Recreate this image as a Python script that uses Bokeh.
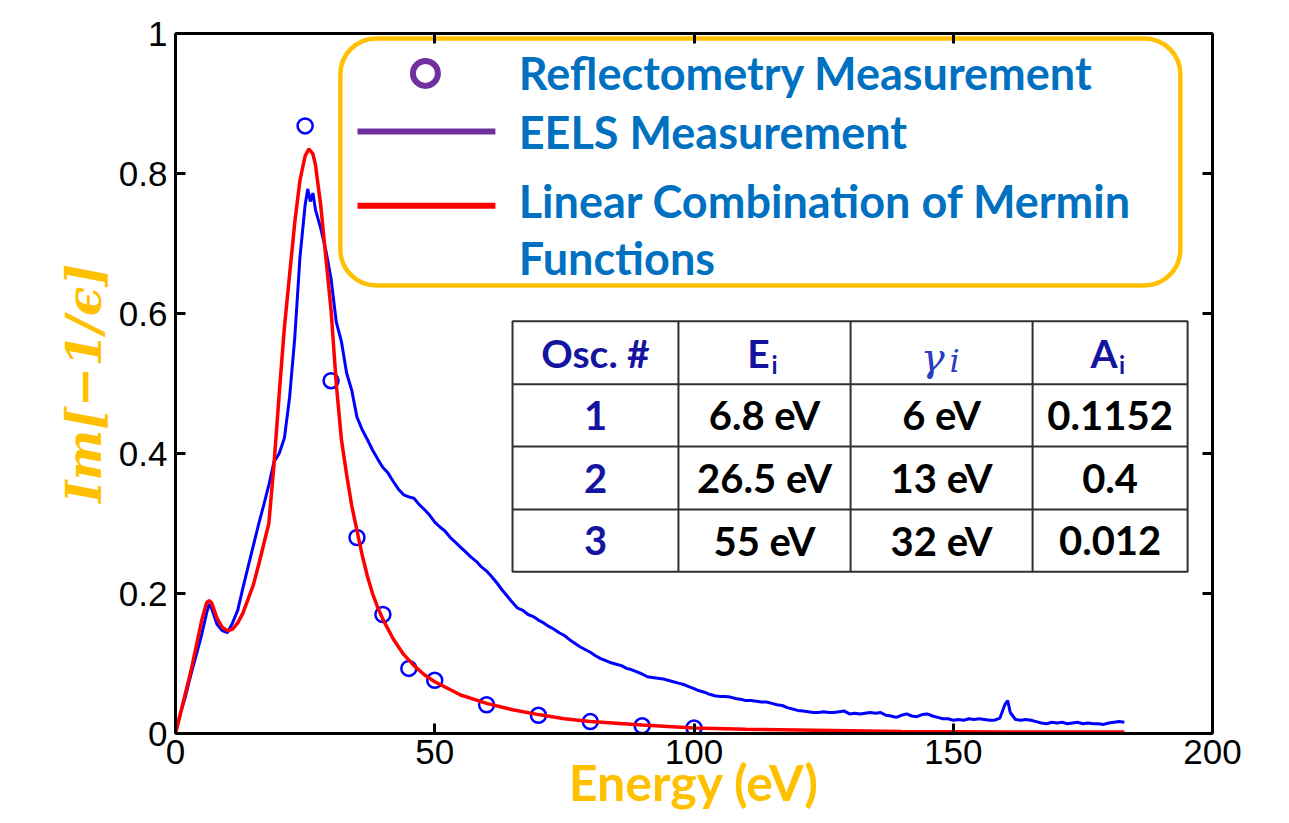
from bokeh.plotting import figure
from bokeh.models import (Range1d, LinearAxis, FixedTicker, NumeralTickFormatter,
                          BoxAnnotation, CustomJSTickFormatter)
from bokeh.core.properties import value
from bokeh.embed import file_html
from bokeh.resources import INLINE

# ---------------- data ----------------
eels_energy = [0, 1, 2, 3, 4, 5, 6, 6.5, 7, 8, 9, 10, 11, 12, 13, 14, 15, 16, 17, 18, 19,
               20, 21, 22, 23, 24, 25, 25.5, 26, 26.5, 27, 28, 29, 30, 31, 32, 33, 34, 35,
               36, 37, 38, 39, 40, 41, 42, 43, 44, 45, 46, 47, 48, 49, 50, 51, 52, 53, 54,
               55, 56, 57, 58, 59, 60, 61, 62, 63, 64, 65, 66, 67, 68, 69, 70, 71, 72, 73,
               74, 75, 76, 77, 78, 79, 80, 81, 82, 83, 84, 85, 86, 87, 88, 89, 90, 91, 92,
               93, 94, 95, 96, 97, 98, 99, 100, 101, 102, 103, 104, 105, 106, 107, 108, 109,
               110, 111, 112, 113, 114, 115, 116, 117, 118, 119, 120, 121, 122, 123, 124,
               125, 126, 127, 128, 129, 130, 131, 132, 133, 134, 135, 136, 137, 138, 139,
               140, 141, 142, 143, 144, 145, 146, 147, 148, 149, 150, 151, 152, 153, 154,
               155, 156, 157, 158, 159, 160, 160.5, 161, 162, 163, 164, 165, 166, 167, 168,
               169, 170, 171, 172, 173, 174, 175, 176, 177, 178, 179, 180, 181, 182, 183]
eels_loss = [0.0, 0.03, 0.055, 0.085, 0.112, 0.14, 0.172, 0.185, 0.178, 0.156, 0.147, 0.144,
             0.158, 0.176, 0.208, 0.238, 0.268, 0.298, 0.326, 0.355, 0.388, 0.400, 0.422,
             0.48, 0.565, 0.68, 0.755, 0.778, 0.76, 0.772, 0.748, 0.722, 0.69, 0.65, 0.588,
             0.56, 0.515, 0.49, 0.452, 0.434, 0.42, 0.405, 0.392, 0.38, 0.372, 0.36, 0.349,
             0.341, 0.338, 0.336, 0.327, 0.32, 0.312, 0.302, 0.295, 0.289, 0.28, 0.273,
             0.266, 0.259, 0.252, 0.246, 0.238, 0.232, 0.224, 0.215, 0.205, 0.196, 0.187,
             0.179, 0.176, 0.17, 0.167, 0.162, 0.158, 0.153, 0.149, 0.144, 0.14, 0.134,
             0.129, 0.124, 0.12, 0.116, 0.111, 0.107, 0.104, 0.101, 0.099, 0.097, 0.093,
             0.091, 0.088, 0.085, 0.081, 0.08, 0.079, 0.078, 0.076, 0.074, 0.072, 0.07,
             0.067, 0.064, 0.061, 0.059, 0.056, 0.054, 0.053, 0.053, 0.052, 0.05, 0.049,
             0.047, 0.047, 0.046, 0.045, 0.045, 0.043, 0.041, 0.04, 0.037, 0.035, 0.033,
             0.032, 0.031, 0.03, 0.03, 0.031, 0.03, 0.03, 0.031, 0.032, 0.028, 0.029,
             0.028, 0.029, 0.03, 0.029, 0.03, 0.026, 0.025, 0.023, 0.026, 0.028, 0.025,
             0.024, 0.027, 0.028, 0.025, 0.023, 0.021, 0.021, 0.019, 0.02, 0.019, 0.021,
             0.02, 0.021, 0.02, 0.019, 0.019, 0.022, 0.042, 0.047, 0.03, 0.02, 0.019, 0.02,
             0.019, 0.017, 0.015, 0.014, 0.016, 0.015, 0.016, 0.014, 0.015, 0.016, 0.014,
             0.015, 0.014, 0.014, 0.013, 0.015, 0.016, 0.017, 0.016]

fit_energy = [0, 1, 2, 3, 4, 5, 6, 6.5, 7, 8, 9, 10, 11, 12, 13, 14, 15, 16, 17, 18, 19, 20,
              21, 22, 23, 24, 25, 25.7, 26.5, 27, 28, 29, 30, 31, 32, 33, 34, 35, 36, 37, 38,
              39, 40, 42, 44, 46, 48, 50, 55, 60, 65, 70, 75, 80, 90, 100, 110, 120, 140,
              160, 183]
fit_loss = [0.0, 0.03, 0.06, 0.09, 0.125, 0.16, 0.187, 0.19, 0.186, 0.165, 0.152, 0.147,
            0.149, 0.158, 0.172, 0.192, 0.212, 0.24, 0.27, 0.30, 0.385, 0.485, 0.58, 0.655,
            0.73, 0.79, 0.825, 0.835, 0.828, 0.812, 0.755, 0.68, 0.605, 0.5, 0.42, 0.37,
            0.325, 0.29, 0.255, 0.225, 0.2, 0.18, 0.163, 0.135, 0.113, 0.097, 0.084, 0.074,
            0.055, 0.043, 0.034, 0.027, 0.021, 0.017, 0.012, 0.008, 0.006, 0.005, 0.003,
            0.002, 0.002]

refl_energy = [25, 30, 35, 40, 45, 50, 60, 70, 80, 90, 100]
refl_loss = [0.868, 0.504, 0.280, 0.170, 0.093, 0.076, 0.041, 0.026, 0.017, 0.011, 0.008]

x_ticks = [0, 50, 100, 150, 200]
y_ticks = [0, 0.2, 0.4, 0.6, 0.8, 1]

x_title = "Energy (eV)"
y_title = "Im[\u22121/\u03f5]"

legend_labels = ["Reflectometry Measurement", "EELS Measurement",
                 "Linear Combination of Mermin", "Functions"]

header_main = ["Osc. #", "E", "\u03b3", "A"]
header_sub = ["", "i", "i", "i"]
osc_number = ["1", "2", "3"]
osc_energy = ["6.8 eV", "26.5 eV", "55 eV"]
osc_gamma = ["6 eV", "13 eV", "32 eV"]
osc_amp = ["0.1152", "0.4", "0.012"]

# ---------------- styles ----------------
ORANGE = "#FFC000"
LEG_BLUE = "#0070C0"
PURPLE = "#7030A0"
NAVY = "#1414A0"

p = figure(width=1289, height=823, x_range=Range1d(0, 200), y_range=Range1d(0, 1),
           output_backend="svg", toolbar_location=None)
p.min_border_left = 175
p.min_border_right = 77
p.min_border_top = 33
p.min_border_bottom = 90
p.grid.visible = False
p.outline_line_color = None
p.background_fill_color = "white"
p.border_fill_color = "white"


def style_axis(ax, ticks, show_labels):
    ax.ticker = FixedTicker(ticks=ticks)
    ax.axis_line_width = 3
    ax.axis_line_color = "black"
    ax.major_tick_in = 10
    ax.major_tick_out = 0
    ax.major_tick_line_width = 3
    ax.minor_tick_line_color = None
    if show_labels:
        ax.formatter = NumeralTickFormatter(format="0.[0]")
        ax.major_label_text_font = "Liberation Sans"
        ax.major_label_text_font_size = "35px"
        ax.major_label_text_color = "black"
    else:
        ax.formatter = CustomJSTickFormatter(code="return ''")
        ax.major_label_standoff = 0


xax = p.xaxis[0]
yax = p.yaxis[0]
style_axis(xax, x_ticks, True)
style_axis(yax, y_ticks, True)
xax.major_label_standoff = 6
yax.major_label_standoff = 8

xax.axis_label = x_title
xax.axis_label_text_font = "Lato"
xax.axis_label_text_font_style = "bold"
xax.axis_label_text_font_size = "50px"
xax.axis_label_text_color = ORANGE
xax.axis_label_standoff = -15

yax.axis_label = y_title
yax.axis_label_text_font = "DejaVu Serif"
yax.axis_label_text_font_style = "bold italic"
yax.axis_label_text_font_size = "48px"
yax.axis_label_text_color = ORANGE
yax.axis_label_standoff = 4

top_ax = LinearAxis()
style_axis(top_ax, x_ticks, False)
p.add_layout(top_ax, "above")
right_ax = LinearAxis()
style_axis(right_ax, y_ticks, False)
p.add_layout(right_ax, "right")

# ---------------- series ----------------
p.line(eels_energy, eels_loss, line_color="#0000FF", line_width=3)
p.scatter(refl_energy, refl_loss, marker="circle", size=15, fill_color=None,
          line_color="#0000FF", line_width=2.5)
p.line(fit_energy, fit_loss, line_color="#FF0000", line_width=3.5)

# ---------------- legend box ----------------
box = BoxAnnotation(left=31.8, right=193.8, top=0.993, bottom=0.64,
                    fill_color="white", fill_alpha=1.0, line_color=ORANGE,
                    line_alpha=1.0, line_width=4.5, border_radius=36, level="underlay")
p.add_layout(box)

p.scatter([48.2], [0.943], marker="circle", size=25, fill_color=None,
          line_color=PURPLE, line_width=6)
p.segment(x0=[35.1], y0=[0.86], x1=[61.7], y1=[0.86], line_color=PURPLE, line_width=6)
p.segment(x0=[35.1], y0=[0.754], x1=[61.7], y1=[0.754], line_color="#FF0000", line_width=6)
p.text(x=[66.2] * 4, y=[0.943, 0.86, 0.761, 0.679], text=legend_labels,
       text_font=value("Lato"), text_font_style="bold", text_font_size="45px",
       text_color=LEG_BLUE, text_align="left", text_baseline="middle")

# ---------------- table ----------------
tab_x = [65.0, 97.0, 130.2, 165.3, 195.2]
tab_y = [0.589, 0.499, 0.41, 0.32, 0.231]
p.quad(left=[tab_x[0]], right=[tab_x[-1]], top=[tab_y[0]], bottom=[tab_y[-1]],
       fill_color="white", line_color="#303030", line_width=2)
p.segment(x0=tab_x[1:-1], y0=[tab_y[-1]] * 3, x1=tab_x[1:-1], y1=[tab_y[0]] * 3,
          line_color="#303030", line_width=2)
p.segment(x0=[tab_x[0]] * 3, y0=tab_y[1:-1], x1=[tab_x[-1]] * 3, y1=tab_y[1:-1],
          line_color="#303030", line_width=2)

col_c = [(tab_x[i] + tab_x[i + 1]) / 2 for i in range(4)]
row_c = [(tab_y[i] + tab_y[i + 1]) / 2 for i in range(4)]
dx = 200 / 1037.0
dy = 1 / 700.0

# header
p.text(x=[col_c[0]], y=[row_c[0]], text=[header_main[0]], text_font=value("Lato"),
       text_font_style="bold", text_font_size="39px", text_color=NAVY,
       text_align="center", text_baseline="middle")
p.text(x=[col_c[1] - 6 * dx, col_c[3] - 6 * dx], y=[row_c[0]] * 2,
       text=[header_main[1], header_main[3]], text_font=value("Lato"),
       text_font_style="bold", text_font_size="39px", text_color=NAVY,
       text_align="center", text_baseline="middle")
p.text(x=[col_c[1] + 10 * dx, col_c[3] + 12 * dx], y=[row_c[0] - 12 * dy] * 2,
       text=[header_sub[1], header_sub[3]], text_font=value("Lato"),
       text_font_style="bold", text_font_size="24px", text_color=NAVY,
       text_align="center", text_baseline="middle")
p.text(x=[col_c[2] - 9 * dx], y=[row_c[0] - 4 * dy], text=[header_main[2]],
       text_font=value("DejaVu Serif"), text_font_style="italic",
       text_font_size="40px", text_color="#2A3CC0",
       text_align="center", text_baseline="middle")
p.text(x=[col_c[2] + 13 * dx], y=[row_c[0] - 8 * dy], text=[header_sub[2]],
       text_font=value("DejaVu Serif"), text_font_style="italic",
       text_font_size="32px", text_color="#2A3CC0",
       text_align="center", text_baseline="middle")

# body
p.text(x=[col_c[0]] * 3, y=row_c[1:], text=osc_number, text_font=value("Lato"),
       text_font_style="bold", text_font_size="40px", text_color=NAVY,
       text_align="center", text_baseline="middle")
for ci, col in zip(col_c[1:], [osc_energy, osc_gamma, osc_amp]):
    p.text(x=[ci] * 3, y=row_c[1:], text=col, text_font=value("Lato"),
           text_font_style="bold", text_font_size="40px", text_color="black",
           text_align="center", text_baseline="middle")

open("out.html", "w").write(file_html(p, INLINE))
